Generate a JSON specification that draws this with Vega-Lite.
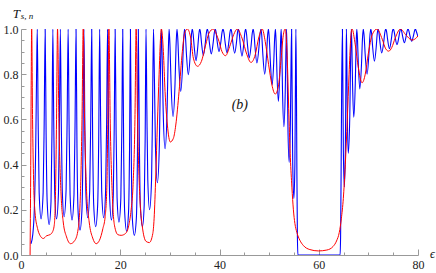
{
"$schema":"https://vega.github.io/schema/vega-lite/v6.json",
"width":397,"height":226,
"autosize":{"type":"none"},
"padding":{"left":21,"top":29,"right":18,"bottom":18},
"background":"white",
"config":{"view":{"stroke":null}},
"datasets":{
"blue":[
{"x":2.01,"y":0.05},{"x":2.37,"y":0.09},{"x":2.68,"y":0.2},{"x":2.98,"y":0.5},{"x":3.14,"y":0.8},
{"x":3.28,"y":1},{"x":3.46,"y":0.584},{"x":3.66,"y":0.276},{"x":4.04,"y":0.16},{"x":4.46,"y":0.276},{"x":4.67,"y":0.584},
{"x":4.87,"y":1},{"x":5.06,"y":0.535},{"x":5.27,"y":0.238},{"x":5.67,"y":0.135},{"x":6.05,"y":0.238},{"x":6.24,"y":0.535},
{"x":6.42,"y":1},{"x":6.60,"y":0.584},{"x":6.79,"y":0.276},{"x":7.16,"y":0.16},{"x":7.55,"y":0.276},{"x":7.74,"y":0.584},
{"x":7.93,"y":1},{"x":8.11,"y":0.601},{"x":8.31,"y":0.291},{"x":8.69,"y":0.17},{"x":9.09,"y":0.291},{"x":9.30,"y":0.601},
{"x":9.50,"y":1},{"x":9.69,"y":0.575},{"x":9.89,"y":0.268},{"x":10.28,"y":0.155},{"x":10.68,"y":0.268},{"x":10.89,"y":0.575},
{"x":11.09,"y":1},{"x":11.28,"y":0.476},{"x":11.49,"y":0.198},{"x":11.89,"y":0.11},{"x":12.28,"y":0.198},{"x":12.49,"y":0.476},
{"x":12.68,"y":1},{"x":12.86,"y":0.593},{"x":13.06,"y":0.283},{"x":13.44,"y":0.165},{"x":13.84,"y":0.283},{"x":14.05,"y":0.593},
{"x":14.25,"y":1},{"x":14.44,"y":0.513},{"x":14.65,"y":0.222},{"x":15.05,"y":0.125},{"x":15.45,"y":0.222},{"x":15.66,"y":0.513},
{"x":15.85,"y":1},{"x":16.05,"y":0.593},{"x":16.26,"y":0.283},{"x":16.66,"y":0.165},{"x":17.05,"y":0.283},{"x":17.26,"y":0.593},
{"x":17.44,"y":1},{"x":17.63,"y":0.575},{"x":17.84,"y":0.268},{"x":18.23,"y":0.155},{"x":18.60,"y":0.268},{"x":18.79,"y":0.575},
{"x":18.97,"y":1},{"x":19.16,"y":0.555},{"x":19.36,"y":0.253},{"x":19.74,"y":0.145},{"x":20.12,"y":0.253},{"x":20.32,"y":0.555},
{"x":20.50,"y":1},{"x":20.69,"y":0.464},{"x":20.89,"y":0.19},{"x":21.29,"y":0.105},{"x":21.67,"y":0.19},{"x":21.87,"y":0.464},
{"x":22.05,"y":1},{"x":22.24,"y":0.412},{"x":22.44,"y":0.16},{"x":22.84,"y":0.087},{"x":23.24,"y":0.16},{"x":23.45,"y":0.412},
{"x":23.64,"y":1},{"x":23.84,"y":0.513},{"x":24.05,"y":0.222},{"x":24.47,"y":0.125},{"x":24.83,"y":0.222},{"x":25.02,"y":0.513},
{"x":25.19,"y":1},{"x":25.36,"y":0.648},{"x":25.55,"y":0.333},{"x":25.91,"y":0.2},{"x":26.31,"y":0.333},{"x":26.51,"y":0.648},
{"x":26.70,"y":1},{"x":26.89,"y":0.776},{"x":27.09,"y":0.485},{"x":27.48,"y":0.32},{"x":27.88,"y":0.485},{"x":28.08,"y":0.776},
{"x":28.27,"y":1},{"x":28.45,"y":0.867},{"x":28.65,"y":0.639},{"x":29.03,"y":0.47},{"x":29.44,"y":0.639},{"x":29.65,"y":0.867},
{"x":29.84,"y":1},{"x":30.03,"y":0.921},{"x":30.24,"y":0.76},{"x":30.64,"y":0.613},{"x":31.04,"y":0.76},{"x":31.24,"y":0.921},
{"x":31.43,"y":1},{"x":31.61,"y":0.951},{"x":31.81,"y":0.84},{"x":32.19,"y":0.724},{"x":32.57,"y":0.84},{"x":32.77,"y":0.951},
{"x":32.96,"y":1},{"x":33.14,"y":0.967},{"x":33.34,"y":0.888},{"x":33.72,"y":0.798},{"x":34.11,"y":0.888},{"x":34.32,"y":0.967},
{"x":34.51,"y":1},{"x":34.69,"y":0.978},{"x":34.89,"y":0.925},{"x":35.27,"y":0.86},{"x":35.64,"y":0.925},{"x":35.84,"y":0.978},
{"x":36.01,"y":1},{"x":36.19,"y":0.982},{"x":36.38,"y":0.938},{"x":36.74,"y":0.883},{"x":37.14,"y":0.938},{"x":37.35,"y":0.982},
{"x":37.54,"y":1},{"x":37.74,"y":0.983},{"x":37.95,"y":0.942},{"x":38.35,"y":0.89},{"x":38.74,"y":0.942},{"x":38.95,"y":0.983},
{"x":39.13,"y":1},{"x":39.32,"y":0.985},{"x":39.52,"y":0.947},{"x":39.90,"y":0.9},{"x":40.30,"y":0.947},{"x":40.51,"y":0.985},
{"x":40.70,"y":1},{"x":40.90,"y":0.984},{"x":41.11,"y":0.945},{"x":41.51,"y":0.895},{"x":41.90,"y":0.945},{"x":42.10,"y":0.984},
{"x":42.29,"y":1},{"x":42.48,"y":0.984},{"x":42.67,"y":0.943},{"x":43.06,"y":0.893},{"x":43.43,"y":0.943},{"x":43.62,"y":0.984},
{"x":43.80,"y":1},{"x":43.98,"y":0.982},{"x":44.16,"y":0.936},{"x":44.53,"y":0.88},{"x":44.90,"y":0.936},{"x":45.09,"y":0.982},
{"x":45.27,"y":1},{"x":45.44,"y":0.98},{"x":45.63,"y":0.932},{"x":45.99,"y":0.872},{"x":46.39,"y":0.932},{"x":46.59,"y":0.98},
{"x":46.78,"y":1},{"x":46.96,"y":0.977},{"x":47.16,"y":0.919},{"x":47.54,"y":0.85},{"x":47.95,"y":0.919},{"x":48.16,"y":0.977},
{"x":48.35,"y":1},{"x":48.53,"y":0.967},{"x":48.73,"y":0.889},{"x":49.11,"y":0.8},{"x":49.49,"y":0.889},{"x":49.68,"y":0.967},
{"x":49.86,"y":1},{"x":50.04,"y":0.957},{"x":50.24,"y":0.859},{"x":50.62,"y":0.753},{"x":50.94,"y":0.859},{"x":51.11,"y":0.957},
{"x":51.27,"y":1},{"x":51.41,"y":0.94},{"x":51.57,"y":0.81},{"x":51.87,"y":0.68},{"x":52.15,"y":0.81},{"x":52.30,"y":0.94},
{"x":52.43,"y":1},{"x":52.56,"y":0.906},{"x":52.70,"y":0.725},{"x":52.98,"y":0.568},{"x":53.25,"y":0.725},{"x":53.39,"y":0.906},
{"x":53.52,"y":1},{"x":53.64,"y":0.836},{"x":53.78,"y":0.581},{"x":54.04,"y":0.41},{"x":54.28,"y":0.581},{"x":54.41,"y":0.836},
{"x":54.53,"y":1},{"x":54.64,"y":0.71},{"x":54.76,"y":0.4},{"x":54.99,"y":0.25},{"x":55.19,"y":0.4},{"x":55.29,"y":0.71},
{"x":55.39,"y":1},{"x":55.5,"y":0.75},{"x":55.6,"y":0.35},{"x":55.7,"y":0.08},{"x":55.8,"y":0},{"x":60,"y":0},{"x":64.3,"y":0},
{"x":64.4,"y":0.08},{"x":64.5,"y":0.35},{"x":64.62,"y":0.75},
{"x":64.77,"y":1},{"x":64.86,"y":0.759},{"x":64.96,"y":0.462},{"x":65.15,"y":0.3},{"x":65.36,"y":0.462},{"x":65.47,"y":0.759},
{"x":65.57,"y":1},{"x":65.66,"y":0.858},{"x":65.76,"y":0.621},{"x":65.95,"y":0.45},{"x":66.26,"y":0.621},{"x":66.41,"y":0.858},
{"x":66.56,"y":1},{"x":66.68,"y":0.92},{"x":66.81,"y":0.758},{"x":67.06,"y":0.61},{"x":67.36,"y":0.758},{"x":67.52,"y":0.92},
{"x":67.66,"y":1},{"x":67.81,"y":0.953},{"x":67.97,"y":0.847},{"x":68.27,"y":0.735},{"x":68.62,"y":0.847},{"x":68.80,"y":0.953},
{"x":68.97,"y":1},{"x":69.15,"y":0.967},{"x":69.35,"y":0.889},{"x":69.74,"y":0.8},{"x":70.11,"y":0.889},{"x":70.30,"y":0.967},
{"x":70.48,"y":1},{"x":70.66,"y":0.978},{"x":70.85,"y":0.923},{"x":71.22,"y":0.857},{"x":71.59,"y":0.923},{"x":71.78,"y":0.978},
{"x":71.95,"y":1},{"x":72.13,"y":0.984},{"x":72.32,"y":0.944},{"x":72.69,"y":0.894},{"x":73.10,"y":0.944},{"x":73.31,"y":0.984},
{"x":73.50,"y":1},{"x":73.68,"y":0.987},{"x":73.87,"y":0.955},{"x":74.24,"y":0.913},{"x":74.63,"y":0.955},{"x":74.82,"y":0.987},
{"x":75.01,"y":1},{"x":75.19,"y":0.99},{"x":75.39,"y":0.964},{"x":75.77,"y":0.931},{"x":76.14,"y":0.964},{"x":76.34,"y":0.99},
{"x":76.52,"y":1},{"x":76.70,"y":0.991},{"x":76.89,"y":0.969},{"x":77.26,"y":0.939},{"x":77.62,"y":0.969},{"x":77.81,"y":0.991},
{"x":77.99,"y":1},{"x":78.16,"y":0.992},{"x":78.36,"y":0.972},{"x":78.73,"y":0.946},{"x":79.10,"y":0.972},{"x":79.30,"y":0.992},
{"x":79.47,"y":1},{"x":79.65,"y":0.99},{"x":80.0,"y":0.965}
],
"red":[
{"x":1.83,"y":0},{"x":1.95,"y":0.35},{"x":2.05,"y":0.75},{"x":2.15,"y":1},{"x":2.33,"y":0.6},{"x":2.54,"y":0.33},{"x":2.82,"y":0.19},{"x":3.34,"y":0.117},{"x":3.82,"y":0.087},{"x":4.49,"y":0.073},{"x":5.15,"y":0.085},{"x":5.84,"y":0.09},{"x":6.30,"y":0.1},{"x":6.70,"y":0.132},{"x":6.96,"y":0.28},{"x":7.16,"y":0.6},{"x":7.36,"y":1},{"x":7.65,"y":0.58},{"x":8.05,"y":0.28},{"x":8.51,"y":0.146},{"x":9.18,"y":0.08},{"x":9.98,"y":0.05},{"x":10.87,"y":0.065},{"x":11.53,"y":0.117},{"x":11.99,"y":0.28},{"x":12.29,"y":0.6},{"x":12.54,"y":1},{"x":12.82,"y":0.58},{"x":13.22,"y":0.28},{"x":13.74,"y":0.146},{"x":14.45,"y":0.075},{"x":15.15,"y":0.05},{"x":15.81,"y":0.065},{"x":16.50,"y":0.117},{"x":16.96,"y":0.17},{"x":17.30,"y":0.3},{"x":17.50,"y":0.6},{"x":17.71,"y":1},{"x":17.99,"y":0.58},{"x":18.37,"y":0.28},{"x":18.83,"y":0.132},{"x":19.52,"y":0.09},{"x":20.18,"y":0.087},{"x":21.05,"y":0.095},{"x":21.73,"y":0.132},{"x":22.19,"y":0.2},{"x":22.56,"y":0.3},{"x":22.96,"y":0.6},{"x":23.20,"y":1},{"x":23.50,"y":0.58},{"x":23.90,"y":0.28},{"x":24.41,"y":0.132},{"x":25.21,"y":0.06},{"x":25.87,"y":0.055},{"x":26.56,"y":0.095},{"x":26.82,"y":0.16},{"x":27.16,"y":0.354},{"x":27.48,"y":0.575},{"x":27.83,"y":0.8},{"x":28.09,"y":0.95},{"x":28.29,"y":1},{"x":28.69,"y":0.9},{"x":29.03,"y":0.723},{"x":29.50,"y":0.575},{"x":30.08,"y":0.5},{"x":30.70,"y":0.516},{"x":31.19,"y":0.575},{"x":31.85,"y":0.723},{"x":32.51,"y":0.9},{"x":32.96,"y":0.98},{"x":33.52,"y":1},{"x":34.20,"y":0.96},{"x":34.73,"y":0.871},{"x":35.57,"y":0.835},{"x":36.34,"y":0.856},{"x":37.22,"y":0.93},{"x":37.89,"y":0.982},{"x":38.75,"y":1},{"x":39.40,"y":0.975},{"x":39.90,"y":0.945},{"x":40.50,"y":0.9},{"x":41.21,"y":0.882},{"x":42.17,"y":0.93},{"x":42.86,"y":0.975},{"x":43.58,"y":1},{"x":44.53,"y":0.96},{"x":45.53,"y":0.886},{"x":46.34,"y":0.852},{"x":47.20,"y":0.886},{"x":47.89,"y":0.96},{"x":48.61,"y":1},{"x":49.21,"y":0.945},{"x":49.90,"y":0.842},{"x":50.56,"y":0.753},{"x":51.23,"y":0.712},{"x":51.91,"y":0.753},{"x":52.43,"y":0.871},{"x":52.84,"y":0.97},{"x":53.24,"y":1},{"x":53.68,"y":0.85},{"x":53.98,"y":0.62},{"x":54.28,"y":0.43},{"x":54.59,"y":0.3},{"x":54.89,"y":0.2},{"x":55.19,"y":0.14},{"x":55.59,"y":0.1},{"x":56.20,"y":0.065},{"x":56.86,"y":0.043},{"x":58.21,"y":0.024},{"x":59.92,"y":0.018},{"x":61.63,"y":0.022},{"x":62.90,"y":0.038},{"x":63.58,"y":0.062},{"x":64.14,"y":0.1},{"x":64.55,"y":0.16},{"x":64.95,"y":0.25},{"x":65.35,"y":0.4},{"x":65.75,"y":0.6},{"x":66.11,"y":0.8},{"x":66.42,"y":0.95},{"x":66.70,"y":1},{"x":67.36,"y":0.93},{"x":67.97,"y":0.83},{"x":68.73,"y":0.762},{"x":69.37,"y":0.8},{"x":69.98,"y":0.89},{"x":70.78,"y":0.975},{"x":71.75,"y":1},{"x":72.79,"y":0.955},{"x":73.50,"y":0.912},{"x":74.10,"y":0.902},{"x":74.71,"y":0.918},{"x":75.41,"y":0.96},{"x":76.46,"y":1},{"x":77.62,"y":0.972},{"x":78.79,"y":0.951},{"x":79.53,"y":0.958},{"x":80.0,"y":0.97}
],
"labels":[
{"x":-1.67,"y":1.047,"t":"T","s":13},
{"x":-0.06,"y":1.044,"t":"s, n","s":9},
{"x":42.46,"y":0.648,"t":"(b)","s":14},
{"x":82.4,"y":-0.015,"t":"ϵ","s":12}
]
},
"encoding":{
"x":{"field":"x","type":"quantitative","scale":{"domain":[0,80],"nice":false,"zero":false},
"axis":{"title":null,"grid":false,"values":[0,5,10,15,20,25,30,35,40,45,50,55,60,65,70,75,80],
"labelExpr":"datum.value % 20 === 0 ? datum.label : ''",
"tickSize":{"condition":{"test":"datum.value % 20 === 0","value":-6},"value":-3},
"labelPadding":10,"domainColor":"#999","tickColor":"#999","labelFont":"Liberation Serif","labelFontSize":12,"labelColor":"#222","labelFlush":false,"labelOverlap":false}},
"y":{"field":"y","type":"quantitative","scale":{"domain":[0,1],"nice":false,"zero":false},
"axis":{"title":null,"grid":false,"values":[0,0.05,0.1,0.15,0.2,0.25,0.3,0.35,0.4,0.45,0.5,0.55,0.6,0.65,0.7,0.75,0.8,0.85,0.9,0.95,1],
"labelExpr":"abs(datum.value*5-round(datum.value*5))<0.001 ? format(datum.value,'.1f') : ''",
"tickSize":{"condition":{"test":"abs(datum.value*5-round(datum.value*5))<0.001","value":-5},"value":-3},
"labelPadding":8,"domainColor":"#999","tickColor":"#999","labelFont":"Liberation Serif","labelFontSize":12,"labelColor":"#222","labelFlush":false,"labelOverlap":false}}
},
"layer":[
{"data":{"name":"blue"},"mark":{"type":"line","color":"#0000ff","strokeWidth":1.1,"interpolate":"monotone","clip":true}},
{"data":{"name":"red"},"mark":{"type":"line","color":"#ff0000","strokeWidth":1,"interpolate":"monotone","clip":true}},
{"data":{"name":"labels"},"mark":{"type":"text","font":"Liberation Serif","fontStyle":"italic","align":"left","baseline":"alphabetic","color":"#111"},
"encoding":{"text":{"field":"t"},"size":{"field":"s","type":"quantitative","scale":null}}}
]
}
